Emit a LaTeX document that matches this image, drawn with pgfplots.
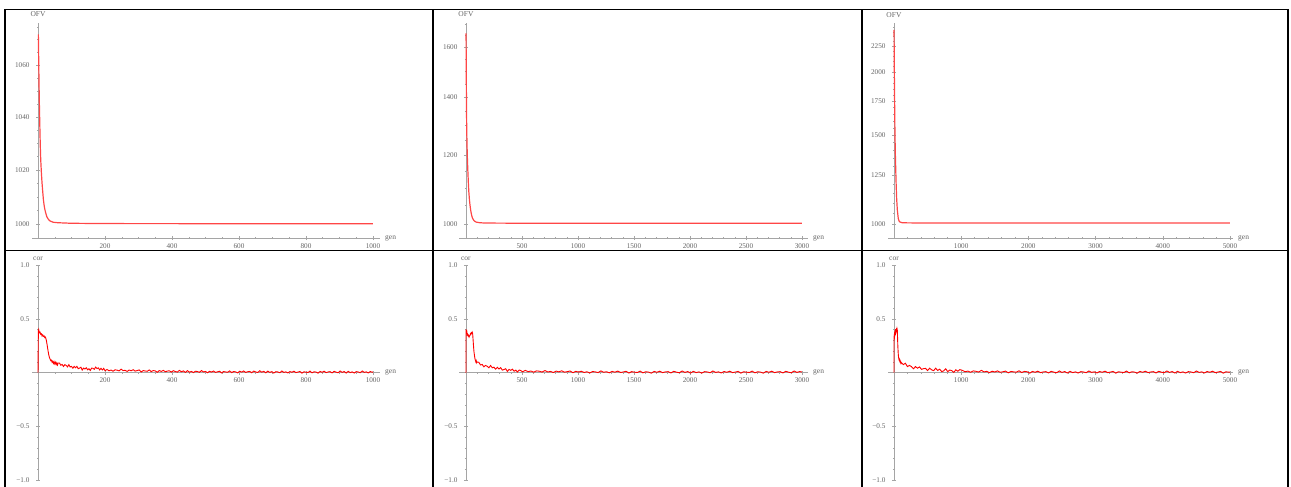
\documentclass[border=0pt]{standalone}
\usepackage{pgfplots}
\pgfplotsset{compat=1.18}
\usepackage{fontspec}
\setmainfont{Liberation Serif}
\definecolor{axgray}{RGB}{165,165,165}
\definecolor{labgray}{RGB}{100,100,100}
\definecolor{topred}{RGB}{255,70,70}
\tikzset{alab/.style={font=\fontsize{7.5}{8}\selectfont, text=labgray, inner sep=0pt}}
\pgfplotsset{
  mstyle/.style={
    scale only axis, clip=false, scaled ticks=false,
    major tick length=4pt, minor tick length=2pt,
    every tick/.style={draw=axgray, line width=0.5pt},
    tick align=inside,
    ticklabel style={font=\fontsize{7.2}{8}\selectfont, text=labgray},
    /pgf/number format/1000 sep={},
    /pgf/number format/assume math mode=true,
    yticklabel style={xshift=-3pt},
  },
  noarrows/.style={
    axis line style={draw=axgray, line width=0.6pt, -},
    every inner x axis line/.append style={-},
    every inner y axis line/.append style={-},
    every outer x axis line/.append style={-},
    every outer y axis line/.append style={-},
  },
  toprow/.style={mstyle, axis x line=bottom, axis y line=middle, noarrows, height=215pt,
    y coord trafo/.code={\pgfmathparse{ln(##1/1000)}}},
  botrow/.style={mstyle, axis lines=middle, noarrows, height=215pt, ymin=-1, ymax=1,
    ytick={-1,-0.5,0.5,1}, yticklabels={−1.0,−0.5,0.5,1.0},
    minor ytick={-0.9,-0.8,-0.7,-0.6,-0.4,-0.3,-0.2,-0.1,0.1,0.2,0.3,0.4,0.6,0.7,0.8,0.9}},
}
\begin{document}
\begin{tikzpicture}
\useasboundingbox (0pt,0pt) rectangle (1291pt,-487pt);
% table grid
\draw[black, line width=1.5pt] (5pt,-9.5pt) -- (1288pt,-9.5pt);
\draw[black, line width=1.5pt] (5pt,-250.5pt) -- (1288pt,-250.5pt);
\draw[black, line width=1.5pt] (5pt,-9.5pt) -- (5pt,-487pt);
\draw[black, line width=1.5pt] (433pt,-9.5pt) -- (433pt,-487pt);
\draw[black, line width=1.5pt] (862pt,-9.5pt) -- (862pt,-487pt);
\draw[black, line width=1.5pt] (1288pt,-9.5pt) -- (1288pt,-487pt);

% ---------- top left (log y) ----------
\begin{axis}[toprow, at={(32pt,-238pt)}, anchor=south west, width=348pt,
  xmin=-18, xmax=1021, ymin=994.9, ymax=1076.5,
  xtick={200,400,600,800,1000}, minor xtick={50,100,...,1000},
  ytick={1000,1020,1040,1060}, yticklabels={1000,1020,1040,1060},
  minor ytick={1005,1010,1015,1025,1030,1035,1045,1050,1055,1065,1070,1075}]
\addplot[topred, line width=1.2pt] coordinates {
(1,1072)(2,1062)(3,1053)(4,1045)(5,1039)(6,1033)(7,1028)(8,1024)(10,1019)(12,1015)(14,1012)(16,1009)(18,1007)(20,1005.5)(23,1004)(26,1002.7)(30,1001.8)(35,1001.1)(45,1000.6)(60,1000.4)(100,1000.2)(200,1000.1)(1000,1000)};
\node[alab, anchor=base] at (axis cs:0,1076.5) [yshift=6pt] {OFV};
\node[alab, anchor=west] at (rel axis cs:1,0) [xshift=5pt] {gen};
\end{axis}

% ---------- top middle ----------
\begin{axis}[toprow, at={(459pt,-238pt)}, anchor=south west, width=349pt,
  xmin=-62, xmax=3054, ymin=963.5, ymax=1706,
  xtick={500,1000,...,3000}, minor xtick={100,200,...,3000},
  ytick={1000,1200,1400,1600}, yticklabels={1000,1200,1400,1600},
  minor ytick={1050,1100,1150,1250,1300,1350,1450,1500,1550,1650,1700}]
\addplot[topred, line width=1.2pt] coordinates {
(1,1660)(2,1570)(3,1490)(4,1420)(5,1365)(6,1315)(8,1265)(10,1230)(12,1200)(14,1180)(16,1160)(19,1135)(22,1112)(26,1088)(31,1067)(36,1052)(41,1040)(46,1031)(52,1022)(58,1016)(65,1012)(75,1008)(91,1005)(120,1003.5)(150,1002.8)(200,1002.4)(400,1002.1)(1000,1002)(3000,1001.8)};
\node[alab, anchor=base] at (axis cs:0,1706) [yshift=6pt] {OFV};
\node[alab, anchor=west] at (rel axis cs:1,0) [xshift=5pt] {gen};
\end{axis}

% ---------- top right ----------
\begin{axis}[toprow, at={(888pt,-238pt)}, anchor=south west, width=345pt,
  xmin=-89, xmax=5045, ymin=938.2, ymax=2498,
  xtick={1000,2000,...,5000}, minor xtick={200,400,...,5000},
  ytick={1000,1250,1500,1750,2000,2250}, yticklabels={1000,1250,1500,1750,2000,2250},
  minor ytick={1050,1100,1150,1200,1300,1350,1400,1450,1550,1600,1650,1700,1800,1850,1900,1950,2050,2100,2150,2200,2300,2350,2400,2450}]
\addplot[topred, line width=1.2pt] coordinates {
(1,2420)(3,2200)(5,2020)(8,1820)(11,1660)(15,1500)(20,1380)(25,1300)(32,1200)(40,1120)(50,1065)(64,1025)(75,1014)(89,1009)(120,1006)(200,1005)(500,1004.5)(5000,1004)};
\node[alab, anchor=base] at (axis cs:0,2498) [yshift=6pt] {OFV};
\node[alab, anchor=west] at (rel axis cs:1,0) [xshift=5pt] {gen};
\end{axis}

% ---------- bottom left ----------
\begin{axis}[botrow, at={(32pt,-480pt)}, anchor=south west, width=348pt,
  xmin=-18, xmax=1021,
  xtick={200,400,600,800,1000}, minor xtick={50,100,...,1000}]
\addplot[red, line width=0.9pt] coordinates {
(0,0)(1,0.39)(2,0.40)(4,0.37)(6,0.375)(8,0.355)(10,0.36)(12,0.34)(14,0.35)(16,0.335)(18,0.34)(20,0.325)(22,0.33)(24,0.31)(26,0.28)(28,0.24)(30,0.2)(32,0.165)(34,0.14)(36,0.125)(38,0.11)(40,0.115)(42,0.095)(44,0.105)(46,0.085)(48,0.1)(50,0.08)(52,0.095)(54,0.075)(56,0.09)(58,0.07)(60,0.088)
(64,0.088)(68,0.067)(72,0.075)(76,0.056)(80,0.073)(84,0.066)(88,0.052)(92,0.073)(96,0.051)(100,0.057)(104,0.040)(108,0.057)(112,0.044)(116,0.057)(120,0.035)(124,0.041)(128,0.049)(132,0.023)(136,0.041)(140,0.033)(144,0.044)(148,0.025)(152,0.035)(156,0.019)(160,0.041)(164,0.039)(168,0.030)(172,0.050)(176,0.037)(180,0.043)(184,0.024)(188,0.039)(192,0.024)(196,0.038)(200,0.017)
(206,0.028)(212,0.016)(218,0.023)(224,0.012)(230,0.025)(236,0.022)(242,0.015)(248,0.031)(254,0.018)(260,0.020)(266,0.010)(272,0.023)(278,0.016)(284,0.026)(290,0.013)(296,0.018)(302,0.024)(308,0.005)(314,0.018)(320,0.014)
(326,0.011)(332,0.024)(338,0.008)(344,0.018)(350,0.015)(356,0.002)(362,0.018)(368,0.010)(374,0.020)(380,0.007)(386,0.013)(392,0.016)(398,0.004)(404,0.017)(410,0.009)(416,0.004)(422,0.020)(428,0.007)(434,0.015)(440,0.001)
(446,0.017)(452,0.003)(458,0.010)(464,-0.001)(470,0.012)(476,0.009)(482,0.002)(488,0.018)(494,0.005)(500,0.010)(506,-0.002)(512,0.011)(518,0.004)(524,0.014)(530,0.001)(536,0.006)(542,0.012)(548,-0.004)(554,0.009)(560,0.005)
(566,0.002)(572,0.015)(578,-0.001)(584,0.009)(590,0.006)(596,-0.004)(602,0.012)(608,0.004)(614,0.014)(620,0.001)(626,0.007)(632,0.010)(638,-0.002)(644,0.013)(650,0.005)(656,0.000)(662,0.016)(668,0.003)(674,0.011)(680,-0.003)
(686,0.013)(692,0.001)(698,0.008)(704,-0.005)(710,0.008)(716,0.005)(722,-0.002)(728,0.014)(734,0.001)(740,0.006)(746,-0.004)(752,0.009)(758,0.002)(764,0.012)(770,-0.001)(776,0.004)(782,0.010)(788,-0.006)(794,0.007)(800,0.003)
(806,0.000)(812,0.013)(818,-0.003)(824,0.007)(830,0.004)(836,-0.006)(842,0.010)(848,0.002)(854,0.012)(860,-0.001)(866,0.005)(872,0.008)(878,-0.004)(884,0.011)(890,0.003)(896,-0.002)(902,0.014)(908,0.001)(914,0.009)(920,-0.005)
(926,0.011)(932,-0.001)(938,0.006)(944,-0.005)(950,0.008)(956,0.005)(962,-0.002)(968,0.014)(974,0.001)(980,0.006)(986,-0.004)(992,0.009)(998,0.002)(1000,0.006)};
\node[alab, anchor=base] at (axis cs:0,1) [yshift=5pt] {cor};
\node[alab, anchor=west] at (rel axis cs:1,0.5) [xshift=5pt] {gen};
\end{axis}

% ---------- bottom middle ----------
\begin{axis}[botrow, at={(459pt,-480pt)}, anchor=south west, width=349pt,
  xmin=-62, xmax=3054,
  xtick={500,1000,...,3000}, minor xtick={100,200,...,3000}]
\addplot[red, line width=0.9pt] coordinates {
(0,0)(1,0.40)(4,0.37)(8,0.38)(12,0.35)(16,0.355)(20,0.34)(24,0.345)(28,0.33)(32,0.34)(36,0.345)(40,0.36)(44,0.355)(48,0.37)(52,0.365)(56,0.375)(60,0.36)(64,0.30)(68,0.24)(72,0.19)(76,0.16)(80,0.13)(84,0.115)(88,0.10)(92,0.11)(96,0.09)(100,0.098)
(115,0.095)(130,0.070)(145,0.075)(160,0.053)(175,0.066)(190,0.058)(205,0.044)(220,0.065)(235,0.044)(250,0.049)(265,0.031)(280,0.048)(295,0.033)(310,0.045)(325,0.022)(340,0.028)(355,0.035)(370,0.010)(385,0.029)(400,0.020)(415,0.031)(430,0.012)(445,0.022)(460,0.005)(475,0.023)(490,0.018)(505,0.006)
(530,0.020)(555,0.008)(580,0.014)(605,0.003)(630,0.015)(655,0.012)(680,0.004)(705,0.018)(730,0.005)(755,0.010)(780,0.000)(805,0.013)(830,0.006)(855,0.016)(880,0.003)(905,0.008)(930,0.014)(955,-0.002)(980,0.011)(1005,0.004)
(1030,0.012)(1055,0.000)(1080,0.007)(1105,-0.004)(1130,0.009)(1155,0.006)(1180,-0.001)(1205,0.015)(1230,0.002)(1255,0.007)(1280,-0.003)(1305,0.010)(1330,0.003)(1355,0.013)(1380,0.000)(1405,0.005)(1430,0.011)(1455,-0.005)(1480,0.008)(1505,0.003)
(1530,0.000)(1555,0.013)(1580,-0.003)(1605,0.007)(1630,0.004)(1655,-0.006)(1680,0.010)(1705,0.002)(1730,0.012)(1755,-0.001)(1780,0.005)(1805,0.008)(1830,-0.004)(1855,0.011)(1880,0.003)(1905,-0.002)(1930,0.014)(1955,0.001)(1980,0.009)(2005,-0.005)
(2030,0.011)(2055,-0.001)(2080,0.006)(2105,-0.005)(2130,0.008)(2155,0.005)(2180,-0.002)(2205,0.014)(2230,0.001)(2255,0.006)(2280,-0.004)(2305,0.009)(2330,0.002)(2355,0.012)(2380,-0.001)(2405,0.004)(2430,0.010)(2455,-0.006)(2480,0.007)(2505,0.003)
(2530,0.000)(2555,0.013)(2580,-0.003)(2605,0.007)(2630,0.004)(2655,-0.006)(2680,0.010)(2705,0.002)(2730,0.012)(2755,-0.001)(2780,0.005)(2805,0.008)(2830,-0.004)(2855,0.011)(2880,0.003)(2905,-0.002)(2930,0.014)(2955,0.001)(2980,0.009)(3000,0.004)};
\node[alab, anchor=base] at (axis cs:0,1) [yshift=5pt] {cor};
\node[alab, anchor=west] at (rel axis cs:1,0.5) [xshift=5pt] {gen};
\end{axis}

% ---------- bottom right ----------
\begin{axis}[botrow, at={(888pt,-480pt)}, anchor=south west, width=345pt,
  xmin=-89, xmax=5045,
  xtick={1000,2000,...,5000}, minor xtick={200,400,...,5000}]
\addplot[red, line width=0.9pt] coordinates {
(0,0)(1,0.33)(5,0.35)(9,0.34)(13,0.37)(17,0.36)(21,0.38)(25,0.37)(29,0.39)(33,0.385)(37,0.40)(41,0.395)(45,0.41)(49,0.40)(53,0.33)(57,0.25)(61,0.20)(65,0.16)(70,0.135)(75,0.12)(80,0.125)(85,0.105)(90,0.11)(95,0.095)(100,0.10)(105,0.085)(110,0.092)
(140,0.074)(170,0.086)(200,0.055)(230,0.066)(260,0.055)(290,0.035)(320,0.055)(350,0.040)(380,0.052)(410,0.029)(440,0.036)(470,0.038)(500,0.018)(530,0.040)(560,0.025)(590,0.017)(620,0.040)(650,0.019)(680,0.031)(710,0.008)(740,0.015)(770,0.034)(800,0.008)(830,0.023)(860,0.017)(890,0.001)(920,0.025)(950,0.012)(980,0.027)
(1020,0.019)(1060,0.007)(1100,0.013)(1140,0.002)(1180,0.015)(1220,0.011)(1260,0.004)(1300,0.020)(1340,0.006)(1380,0.011)(1420,-0.001)(1460,0.012)(1500,0.005)(1540,0.015)(1580,0.002)(1620,0.007)(1660,0.013)(1700,-0.003)(1740,0.010)(1780,0.006)
(1820,0.003)(1860,0.016)(1900,0.000)(1940,0.010)(1980,0.007)(2020,-0.006)(2060,0.010)(2100,0.002)(2140,0.012)(2180,-0.001)(2220,0.005)(2260,0.008)(2300,-0.004)(2340,0.011)(2380,0.003)(2420,-0.002)(2460,0.014)(2500,0.001)(2540,0.009)(2580,-0.005)
(2620,0.011)(2660,-0.001)(2700,0.006)(2740,-0.005)(2780,0.008)(2820,0.005)(2860,-0.002)(2900,0.014)(2940,0.001)(2980,0.006)(3020,-0.004)(3060,0.009)(3100,0.002)(3140,0.012)(3180,-0.001)(3220,0.004)(3260,0.010)(3300,-0.006)(3340,0.007)(3380,0.003)
(3420,0.000)(3460,0.013)(3500,-0.003)(3540,0.007)(3580,0.004)(3620,-0.006)(3660,0.010)(3700,0.002)(3740,0.012)(3780,-0.001)(3820,0.005)(3860,0.008)(3900,-0.004)(3940,0.011)(3980,0.003)(4020,-0.002)(4060,0.014)(4100,0.001)(4140,0.009)(4180,-0.005)
(4220,0.011)(4260,-0.001)(4300,0.006)(4340,-0.005)(4380,0.008)(4420,0.005)(4460,-0.002)(4500,0.014)(4540,0.001)(4580,0.006)(4620,-0.004)(4660,0.009)(4700,0.002)(4740,0.012)(4780,-0.001)(4820,0.004)(4860,0.010)(4900,-0.006)(4940,0.007)(4980,0.003)(5000,0.004)};
\node[alab, anchor=base] at (axis cs:0,1) [yshift=5pt] {cor};
\node[alab, anchor=west] at (rel axis cs:1,0.5) [xshift=5pt] {gen};
\end{axis}
\end{tikzpicture}
\end{document}
